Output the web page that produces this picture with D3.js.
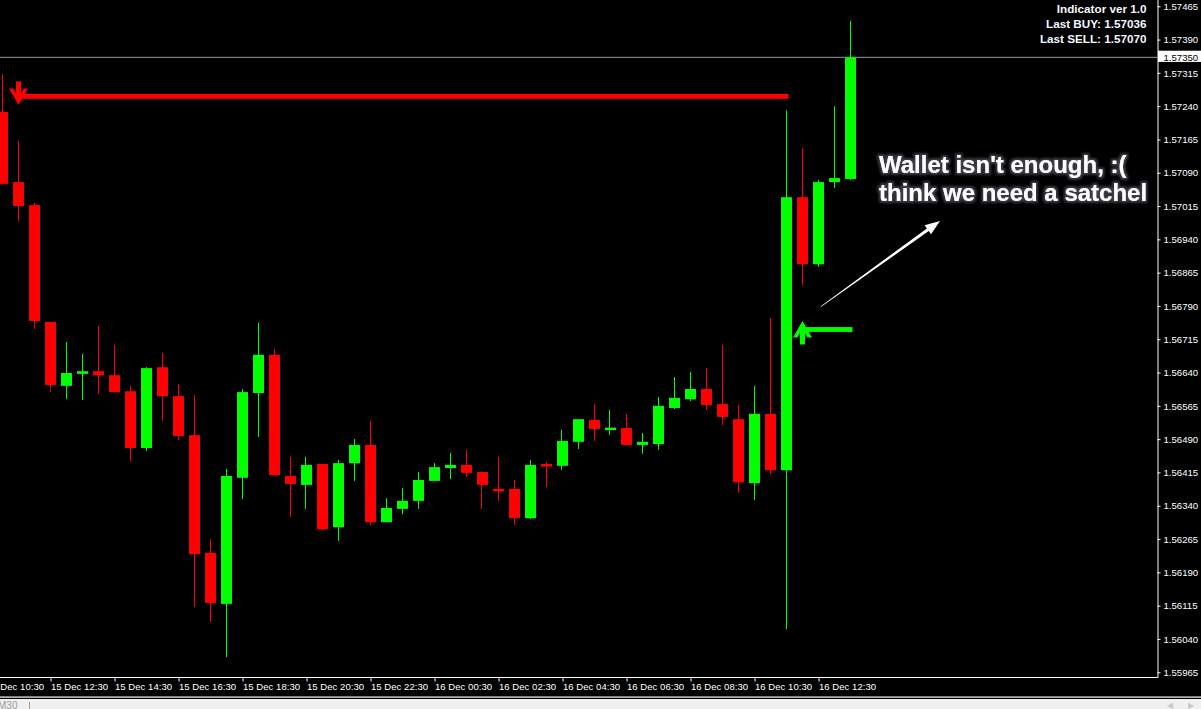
<!DOCTYPE html>
<html><head><meta charset="utf-8">
<script src="https://cdn.jsdelivr.net/npm/d3@7"></script>
<style>html,body{margin:0;padding:0;background:#000;overflow:hidden}</style>
</head><body>
<svg id="c" width="1201" height="709"></svg>
<script>
// ---- data (GBP-like pair, M30 bars) ----
const firstBar = "15 Dec 11:00";
const open  = [1.57227,1.57069,1.57017,1.56754,1.56610,1.56637,1.56643,1.56634,1.56598,1.56470,
               1.56652,1.56587,1.56499,1.56234,1.56119,1.56403,1.56594,1.56680,1.56407,1.56387,
               1.56434,1.56292,1.56436,1.56477,1.56303,1.56333,1.56351,1.56396,1.56425,1.56432,
               1.56416,1.56378,1.56378,1.56312,1.56434,1.56430,1.56484,1.56533,1.56513,1.56515,
               1.56477,1.56479,1.56560,1.56580,1.56603,1.56569,1.56535,1.56391,1.56547,1.56420,
               1.57035,1.56884,1.57069,1.57076];
const high  = [1.57312,1.57162,1.57022,1.56754,1.56709,1.56682,1.56745,1.56702,1.56610,1.56652,
               1.56684,1.56614,1.56589,1.56265,1.56423,1.56603,1.56752,1.56693,1.56450,1.56450,
               1.56434,1.56443,1.56490,1.56531,1.56357,1.56380,1.56416,1.56436,1.56459,1.56466,
               1.56418,1.56450,1.56398,1.56443,1.56439,1.56511,1.56535,1.56569,1.56556,1.56547,
               1.56504,1.56585,1.56630,1.56641,1.56650,1.56702,1.56567,1.56610,1.56763,1.57231,
               1.57146,1.57074,1.57240,1.57432];
const low   = [1.57063,1.56981,1.56738,1.56596,1.56580,1.56578,1.56592,1.56594,1.56441,1.56463,
               1.56531,1.56488,1.56112,1.56078,1.55999,1.56355,1.56495,1.56409,1.56315,1.56333,
               1.56285,1.56261,1.56396,1.56297,1.56303,1.56321,1.56333,1.56396,1.56400,1.56405,
               1.56333,1.56351,1.56297,1.56310,1.56382,1.56420,1.56468,1.56486,1.56499,1.56477,
               1.56457,1.56466,1.56558,1.56576,1.56556,1.56522,1.56369,1.56353,1.56411,1.56062,
               1.56837,1.56878,1.57056,1.57074];
const close = [1.57065,1.57015,1.56756,1.56612,1.56639,1.56643,1.56634,1.56596,1.56470,1.56650,
               1.56587,1.56497,1.56231,1.56121,1.56407,1.56596,1.56680,1.56409,1.56389,1.56432,
               1.56287,1.56436,1.56477,1.56303,1.56335,1.56351,1.56398,1.56427,1.56432,1.56414,
               1.56387,1.56373,1.56312,1.56432,1.56430,1.56486,1.56535,1.56513,1.56516,1.56477,
               1.56484,1.56565,1.56583,1.56603,1.56567,1.56540,1.56393,1.56547,1.56420,1.57035,
               1.56884,1.57069,1.57078,1.57350];
const priceTicks = [1.55965,1.56040,1.56115,1.56190,1.56265,1.56340,1.56415,1.56490,1.56565,1.56640,
                    1.56715,1.56790,1.56865,1.56940,1.57015,1.57090,1.57165,1.57240,1.57315,1.57390,1.57465];
const timeTicks = ["15 Dec 10:30","15 Dec 12:30","15 Dec 14:30","15 Dec 16:30","15 Dec 18:30","15 Dec 20:30",
                   "15 Dec 22:30","16 Dec 00:30","16 Dec 02:30","16 Dec 04:30","16 Dec 06:30","16 Dec 08:30",
                   "16 Dec 10:30","16 Dec 12:30"];
const currentPrice = 1.57350;
const sellSignal = {from: 1, to: 49, price: 1.57262};
const buySignal  = {from: 50, to: 53, price: 1.56737};
const infoLines = ["Indicator ver 1.0", "Last BUY: 1.57036", "Last SELL: 1.57070"];
const noteLines = ["Wallet isn't enough, :(", "think we need a satchel"];

// ---- build ----
const parse = d3.timeParse("%d %b %H:%M");
const fmt = d3.timeFormat("%d %b %H:%M");
const t0 = parse(firstBar);
const times = open.map((_, i) => d3.timeMinute.offset(t0, 30 * i));
const bars = open.map((o, i) => ({t: times[i], o, h: high[i], l: low[i], c: close[i]}));

const W = 1201, H = 709, plotR = 1157.5, plotB = 677.5;
const x = d3.scaleTime().domain([times[0], times[times.length - 1]]).range([2.5, 850.5]);
const y = d3.scaleLinear().domain([1.559543, 1.574791]).range([677, 0]);

const svg = d3.select("#c");
svg.append("rect").attr("width", W).attr("height", H).attr("fill", "#000");

const defs = svg.append("defs");
const glow = defs.append("filter").attr("id", "glow").attr("x", "-10%").attr("y", "-30%").attr("width", "120%").attr("height", "160%");
glow.append("feMorphology").attr("in", "SourceAlpha").attr("operator", "dilate").attr("radius", 1.5).attr("result", "d");
glow.append("feGaussianBlur").attr("in", "d").attr("stdDeviation", 1.2).attr("result", "b");
glow.append("feFlood").attr("flood-color", "#3a3a44").attr("result", "f");
glow.append("feComposite").attr("in", "f").attr("in2", "b").attr("operator", "in").attr("result", "s");
const m = glow.append("feMerge");
m.append("feMergeNode").attr("in", "s");
m.append("feMergeNode").attr("in", "SourceGraphic");

const plot = svg.append("g");
plot.append("clipPath").attr("id", "clip").append("rect").attr("x", 0).attr("y", 0).attr("width", plotR).attr("height", plotB);
const pg = plot.append("g").attr("clip-path", "url(#clip)");

// current price line
pg.append("line").attr("x1", 0).attr("x2", plotR).attr("y1", y(currentPrice)).attr("y2", y(currentPrice))
  .attr("stroke", "#9a9aa2").attr("stroke-width", 1);

// candles
const col = d => d.c >= d.o ? "#00ff00" : "#ff0000";
const cg = pg.selectAll("g.bar").data(bars).join("g").attr("class", "bar");
cg.append("rect")
  .attr("x", d => Math.round(x(d.t)) - 0.5 - 0.5 + 0.5 - 0.5)
  .attr("width", 1)
  .attr("y", d => y(d.h))
  .attr("height", d => Math.max(1, y(d.l) - y(d.h)))
  .attr("fill", col);
cg.append("rect")
  .attr("x", d => x(d.t) - 5.5)
  .attr("width", 11)
  .attr("y", d => Math.min(y(d.o), y(d.c)))
  .attr("height", d => Math.max(2.5, Math.abs(y(d.o) - y(d.c))))
  .attr("fill", col);

// signal lines and arrows
function signal(s, color, dir) {
  const yy = y(s.price), xa = x(times[s.from]), xb = x(times[s.to]) + 2;
  pg.append("rect").attr("x", xa).attr("width", xb - xa).attr("y", yy - 2.4).attr("height", 4.8).attr("fill", color);
  const k = dir; // +1 down arrow, -1 up arrow
  const tip = yy + k * 8.5, wing = yy - k * 8, stemEnd = yy - k * 15;
  pg.append("rect").attr("x", xa - 2.5).attr("width", 5)
    .attr("y", Math.min(stemEnd, tip - k * 6)).attr("height", Math.abs(stemEnd - (tip - k * 6)))
    .attr("fill", color);
  const pts = [[xa - 9.5, wing], [xa - 5, wing], [xa, tip - k * 7], [xa + 5, wing], [xa + 9.5, wing], [xa, tip]];
  pg.append("polygon").attr("points", pts.map(p => p.join(",")).join(" ")).attr("fill", color);
}
signal(sellSignal, "#ff0000", 1);
signal(buySignal, "#00ff00", -1);

// annotation arrow (white, tapered)
(function () {
  const tail = [821, 306.5], tipP = [940, 221];
  const dx = tipP[0] - tail[0], dy = tipP[1] - tail[1], L = Math.hypot(dx, dy);
  const ux = dx / L, uy = dy / L, nx = -uy, ny = ux;
  const hb = [tipP[0] - ux * 15, tipP[1] - uy * 15];
  const P = (p, w) => [p[0] + nx * w, p[1] + ny * w];
  const pts = [P(tail, 0.4), P(hb, 1.6), P(hb, 5.5), tipP, P(hb, -5.5), P(hb, -1.6), P(tail, -0.4)];
  svg.append("polygon").attr("points", pts.map(p => p.join(",")).join(" ")).attr("fill", "#ffffff");
})();

// annotation text
svg.append("g").selectAll("text").data(noteLines).join("text")
  .attr("x", 879).attr("y", (d, i) => 172.5 + i * 28.5)
  .attr("font-family", "Liberation Sans, Arial, sans-serif").attr("font-weight", "bold").attr("font-size", 24)
  .attr("fill", "#ffffff").attr("filter", "url(#glow)").text(d => d);

// info text top right
svg.append("g").selectAll("text").data(infoLines).join("text")
  .attr("x", 1146.5).attr("y", (d, i) => 13.3 + i * 15)
  .attr("text-anchor", "end")
  .attr("font-family", "Liberation Sans, Arial, sans-serif").attr("font-weight", "bold").attr("font-size", 11.7)
  .attr("fill", "#f4f8ff").text(d => d);

// y axis (right)
const yAxis = d3.axisRight(y).tickValues(priceTicks).tickSize(3).tickSizeOuter(0).tickPadding(3)
  .tickFormat(d3.format(".5f"));
const ya = svg.append("g").attr("transform", `translate(${plotR},0)`).call(yAxis);
ya.select(".domain").attr("stroke", "#fff").attr("d", `M0.5,0V${plotB}`);
ya.selectAll(".tick line").attr("stroke", "#fff");
ya.selectAll(".tick text").attr("fill", "#fff").attr("font-family", "Liberation Sans, Arial, sans-serif")
  .attr("font-size", 9.6).attr("dy", "0.33em");

// current price label
const cpy = y(currentPrice);
svg.append("rect").attr("x", plotR + 0.5).attr("y", cpy - 6.6).attr("width", W - plotR).attr("height", 11.2).attr("fill", "#fff");
svg.append("text").attr("x", plotR + 6).attr("y", cpy + 3.3).attr("fill", "#000")
  .attr("font-family", "Liberation Sans, Arial, sans-serif").attr("font-size", 9.6).text(d3.format(".5f")(currentPrice));

// x axis (bottom)
const xAxis = d3.axisBottom(x).tickValues(timeTicks.map(parse)).tickSize(4).tickSizeOuter(0).tickFormat(fmt);
const xa = svg.append("g").attr("transform", `translate(0,${plotB})`).call(xAxis);
xa.select(".domain").attr("stroke", "#fff").attr("d", `M0,0H${plotR + 0.5}`);
xa.selectAll(".tick line").attr("stroke", "#fff");
xa.selectAll(".tick text").attr("fill", "#fff").attr("text-anchor", "start").attr("x", 0).attr("y", 6)
  .attr("dy", "0.71em").attr("font-family", "Liberation Sans, Arial, sans-serif").attr("font-size", 9.6);

// bottom bar
svg.append("rect").attr("x", 0).attr("y", 696.5).attr("width", W).attr("height", 1.2).attr("fill", "#fff");
svg.append("rect").attr("x", 0).attr("y", 699).attr("width", W).attr("height", 10).attr("fill", "#f0f0f0");
svg.append("text").attr("x", -2).attr("y", 708.5).attr("fill", "#9a9a9a")
  .attr("font-family", "Liberation Sans, Arial, sans-serif").attr("font-size", 10).text("M30");
svg.append("rect").attr("x", 29).attr("y", 702).attr("width", 1).attr("height", 7).attr("fill", "#a0a0a0");
svg.append("text").attr("x", 1167).attr("y", 708).attr("fill", "#c8c8c8").attr("font-size", 8).attr("font-family", "DejaVu Sans").text("◀");
svg.append("text").attr("x", 1188).attr("y", 708).attr("fill", "#c8c8c8").attr("font-size", 8).attr("font-family", "DejaVu Sans").text("▶");
</script>
</body></html>
